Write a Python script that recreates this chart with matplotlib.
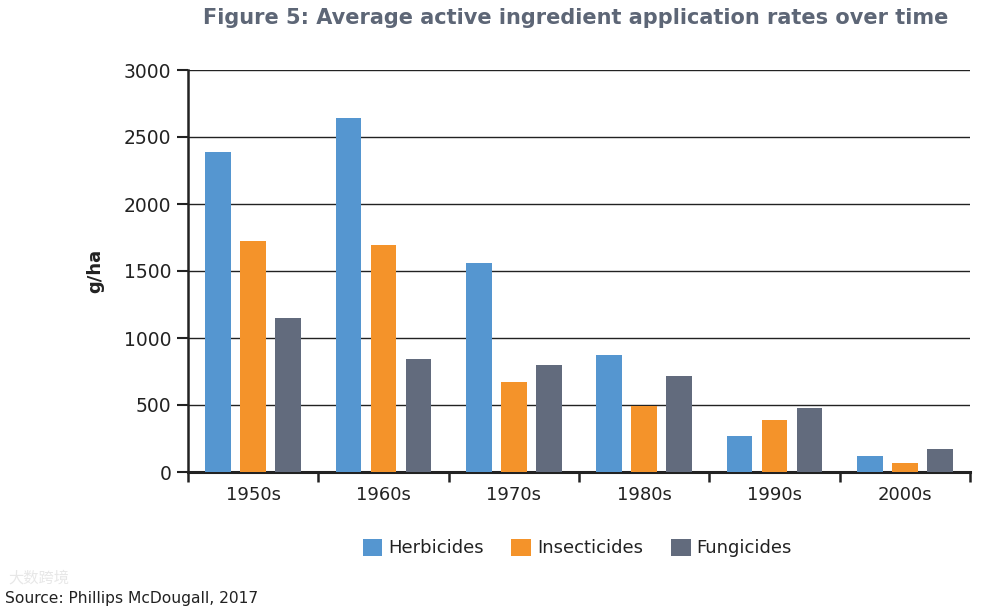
import matplotlib
matplotlib.use("Agg")
import matplotlib.pyplot as plt
import numpy as np

categories = ["1950s", "1960s", "1970s", "1980s", "1990s", "2000s"]
herbicides = [2390, 2645, 1560, 870, 265, 120]
insecticides = [1725, 1695, 670, 493, 385, 68]
fungicides = [1150, 845, 802, 715, 480, 175]
series_names = ["Herbicides", "Insecticides", "Fungicides"]
colors = ["#5596d0", "#f4932a", "#626b7d"]
yticks = [0, 500, 1000, 1500, 2000, 2500, 3000]

plt.rcParams['font.family'] = ['DejaVu Sans']

fig = plt.figure(figsize=(9.84, 6.12), dpi=100)
ax = fig.add_axes([188/984, 1-472/612, (970-188)/984, (472-70)/612])

x = np.arange(len(categories))
bw = 0.196
off = 0.269
for i, (vals, name, c) in enumerate(zip([herbicides, insecticides, fungicides], series_names, colors)):
    ax.bar(x + (i-1)*off, vals, width=bw, color=c, label=name, zorder=3)

ax.set_xlim(-0.5, len(categories)-0.5)
ax.set_ylim(0, 3000)
ax.set_yticks(yticks)
ax.set_yticklabels([str(v) for v in yticks], fontsize=13.5, color="#222222")
ax.yaxis.grid(True, color="#222222", linewidth=1.0, zorder=0)
ax.set_axisbelow(True)

# x ticks at group boundaries, labels at centres
ax.set_xticks(np.arange(len(categories)+1) - 0.5)
ax.set_xticklabels([])
ax.set_xticks(x, minor=True)
ax.set_xticklabels(categories, minor=True, fontsize=13, color="#222222")
ax.tick_params(axis='x', which='minor', length=0, pad=10)
ax.tick_params(axis='x', which='major', length=7, width=1.8, color="#222222", direction='out')
ax.tick_params(axis='y', length=8, width=1.5, color="#222222", pad=4)

for s in ["top", "right"]:
    ax.spines[s].set_visible(False)
ax.spines["left"].set_color("#222222")
ax.spines["left"].set_linewidth(1.8)
ax.spines["bottom"].set_color("#222222")
ax.spines["bottom"].set_linewidth(2.2)

ax.set_ylabel("g/ha", fontsize=13, fontweight="bold", color="#222222", labelpad=14)

fig.text(948/984, 1-18/612, "Figure 5: Average active ingredient application rates over time",
         ha="right", va="center", fontsize=15, fontweight="bold", color="#5d6676")

leg = ax.legend(loc="center", bbox_to_anchor=(577/984, 1-548/612), bbox_transform=fig.transFigure,
                ncol=3, frameon=False, fontsize=13, handlelength=1.1, handleheight=1.1,
                columnspacing=1.55, handletextpad=0.3)
for t in leg.get_texts():
    t.set_color("#222222")

fig.text(5/984, 1-598/612, "Source: Phillips McDougall, 2017", ha="left", va="center",
         fontsize=11.2, color="#222222")
fig.text(8/984, 1-578/612, "大数跨境", ha="left", va="center", fontsize=11,
         color="#dddddd", family=['Noto Sans CJK SC', 'DejaVu Sans'], alpha=0.7)

fig.savefig("out.png", dpi=100)
